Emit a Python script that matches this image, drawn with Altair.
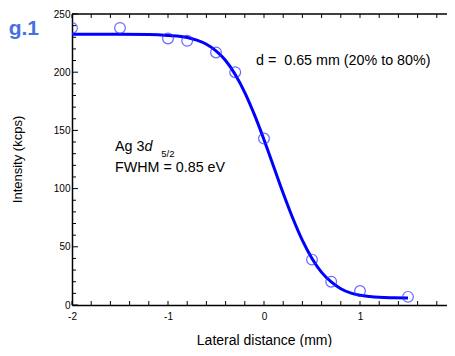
import altair as alt
import pandas as pd

# measured data points
pt_x = [-2.0, -1.5, -1.0, -0.8, -0.5, -0.3, 0.0, 0.5, 0.7, 1.0, 1.5]
pt_y = [238, 238, 229, 227, 217, 200, 143, 39, 20, 12, 7]

# fitted curve
fit_x = [-2.0, -1.5, -1.2, -1.0, -0.8, -0.7, -0.6, -0.5, -0.4, -0.3, -0.2, -0.1,
         0.0, 0.1, 0.2, 0.3, 0.4, 0.5, 0.6, 0.7, 0.8, 0.9, 1.0, 1.1, 1.2, 1.35, 1.5]
fit_y = [232.5, 232.5, 232.3, 231.5, 229.8, 227.5, 224, 218.3, 210, 198, 182.5, 163.5,
         142, 119, 96, 74.5, 55.5, 40, 28, 19.8, 14, 10.4, 8.4, 7.3, 6.6, 6.2, 6.0]

x_ticks = [round(-2 + 0.2 * i, 1) for i in range(20)]
y_minor = [v for v in range(0, 251, 10) if v % 50 != 0]
y_major = [0, 50, 100, 150, 200, 250]
x_labels = [-2, -1, 0, 1]
y_labels = [0, 50, 100, 150, 200, 250]

W, H = 375, 291
FONT = "Liberation Sans"
# the frame runs past the right edge of the picture (x = 2 is just out of view)
xs = alt.Scale(domain=[-2, 1.90625], nice=False, zero=False)
ys = alt.Scale(domain=[0, 250], nice=False, zero=False)

pts = pd.DataFrame({"x": pt_x, "y": pt_y})
fit = pd.DataFrame({"x": fit_x, "y": fit_y})
xt = pd.DataFrame({"t": x_ticks})
ytm = pd.DataFrame({"t": y_minor})
ytM = pd.DataFrame({"t": y_major})

x_axis = alt.Axis(values=x_labels, ticks=False, domain=True, domainColor="black",
                  domainWidth=1.5, grid=False, labelFontSize=10, labelFont=FONT,
                  labelColor="black", labelPadding=6, labelFlush=False,
                  labelExpr="toString(datum.value)",
                  title="Lateral distance (mm)", titleFont=FONT, titleFontSize=14,
                  titleFontWeight="normal", titleColor="black",
                  titleX=192, titleY=35, titleBaseline="middle")
y_axis = alt.Axis(values=y_labels, ticks=False, domain=True, domainColor="black",
                  domainWidth=1.5, grid=False, labelFontSize=10, labelFont=FONT,
                  labelColor="black", labelPadding=2, labelFlush=False,
                  title="Intensity (kcps)", titleFont=FONT, titleFontSize=13,
                  titleFontWeight="normal", titleColor="black",
                  titleX=-55, titleY=145, titleAngle=-90, titleAlign="center",
                  titleBaseline="middle")

line = alt.Chart(fit).mark_line(color="#0000ff", strokeWidth=3, interpolate="monotone",
                                clip=True).encode(
    x=alt.X("x:Q", scale=xs, axis=x_axis),
    y=alt.Y("y:Q", scale=ys, axis=y_axis),
)
points = alt.Chart(pts).mark_point(shape="circle", filled=False, color="#2a2aff",
                                   size=115, strokeWidth=1.2, clip=True).encode(
    x=alt.X("x:Q", scale=xs), y=alt.Y("y:Q", scale=ys))

bt = alt.Chart(xt).mark_rule(color="black", strokeWidth=1).encode(
    x=alt.X("t:Q", scale=xs), y=alt.value(H), y2=alt.value(H - 4))
tt = alt.Chart(xt).mark_rule(color="black", strokeWidth=1).encode(
    x=alt.X("t:Q", scale=xs), y=alt.value(0), y2=alt.value(4))
ltm = alt.Chart(ytm).mark_rule(color="black", strokeWidth=1).encode(
    y=alt.Y("t:Q", scale=ys), x=alt.value(0), x2=alt.value(4))
ltM = alt.Chart(ytM).mark_rule(color="black", strokeWidth=1).encode(
    y=alt.Y("t:Q", scale=ys), x=alt.value(0), x2=alt.value(6))
top = alt.Chart(pd.DataFrame({"a": [0]})).mark_rule(color="black", strokeWidth=1.5).encode(
    x=alt.value(0), x2=alt.value(W), y=alt.value(0))

ann = pd.DataFrame({
    "x": [-0.083, -1.552, -1.552],
    "y": [210, 135.6, 117.6],
    "t": ["d = \u00a00.65 mm (20% to 80%)", "Ag 3", "FWHM = 0.85 eV"],
})
txt = alt.Chart(ann).mark_text(align="left", baseline="middle", font=FONT, fontSize=14.3,
                               color="black").encode(
    x=alt.X("x:Q", scale=xs), y=alt.Y("y:Q", scale=ys), text="t:N")
d_it = alt.Chart(pd.DataFrame({"x": [-1.245], "y": [135.6], "t": ["d"]})).mark_text(
    align="left", baseline="middle", font=FONT, fontSize=14.3, fontStyle="italic",
    color="black").encode(x=alt.X("x:Q", scale=xs), y=alt.Y("y:Q", scale=ys), text="t:N")
sub = alt.Chart(pd.DataFrame({"x": [-1.07], "y": [129.5], "t": ["5/2"]})).mark_text(
    align="left", baseline="middle", font=FONT, fontSize=9.5,
    color="black").encode(x=alt.X("x:Q", scale=xs), y=alt.Y("y:Q", scale=ys), text="t:N")
fig = alt.Chart(pd.DataFrame({"x": [-2.66], "y": [237], "t": ["g.1"]})).mark_text(
    align="left", baseline="middle", font=FONT, fontSize=21, fontWeight="bold",
    color="#4472e0").encode(x=alt.X("x:Q", scale=xs), y=alt.Y("y:Q", scale=ys), text="t:N")

chart = alt.layer(line, points, bt, tt, ltm, ltM, top, txt, d_it, sub, fig).properties(
    width=W, height=H,
    autosize=alt.AutoSizeParams(type="none"),
    padding={"left": 64, "top": 6, "right": 0, "bottom": 42},
).configure_view(stroke=None)

chart.save("out.html", embed_options={"renderer": "svg", "actions": False})
